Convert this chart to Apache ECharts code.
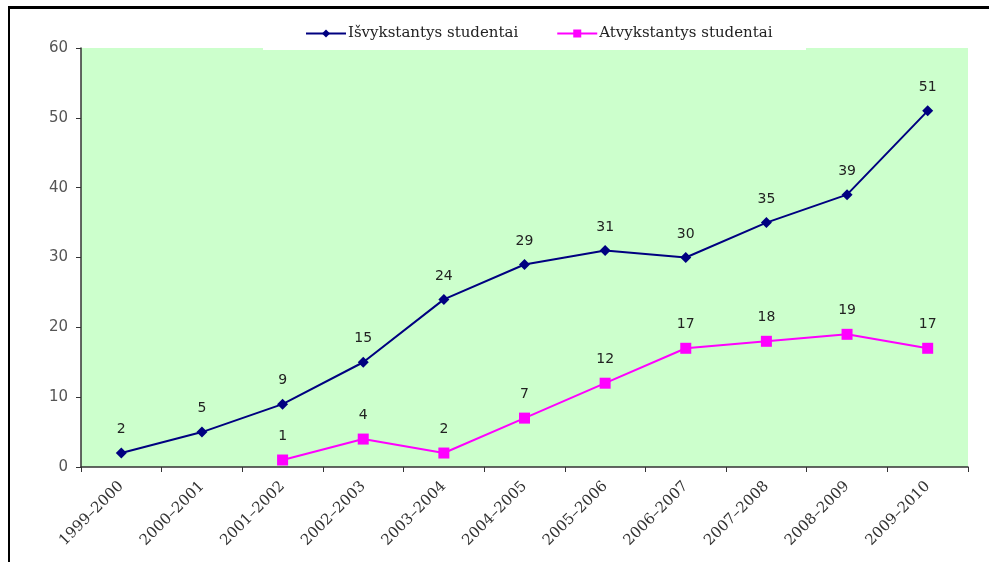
<!DOCTYPE html>
<html><head><meta charset="utf-8">
<script src="https://cdn.jsdelivr.net/npm/echarts@6/dist/echarts.min.js"></script>
<style>html,body{margin:0;padding:0;background:#fff}#c{width:989px;height:562px}</style>
</head><body><div id="c"></div>
<script>
const categories = ['1999–2000','2000–2001','2001–2002','2002–2003','2003–2004','2004–2005','2005–2006','2006–2007','2007–2008','2008–2009','2009–2010'];
const outgoing = [2,5,9,15,24,29,31,30,35,39,51];
const incoming = [null,null,1,4,2,7,12,17,18,19,17];
const seriesNames = ['Išvykstantys studentai','Atvykstantys studentai'];
const yTicks = {min:0, max:60, interval:10};

const chart = echarts.init(document.getElementById('c'), null, {renderer:'canvas'});
const labelStyle = {show:true, position:'top', distance:11, color:'#222', fontFamily:'DejaVu Sans', fontSize:14};
chart.setOption({
  animation:false,
  backgroundColor:'#fff',
  grid:{left:81, right:21, top:48, bottom:95, show:true, backgroundColor:'#CCFFCC', borderWidth:0},
  legend:{
    left:305, top:26, itemGap:38, padding:0,
    itemWidth:40, itemHeight:10,
    textStyle:{fontFamily:'DejaVu Serif', fontSize:15, color:'#222', padding:[0,0,0,-3]},
    data:seriesNames
  },
  xAxis:{
    type:'category', data:categories, boundaryGap:true,
    axisLine:{lineStyle:{color:'#333', width:1.5}},
    axisTick:{show:true, length:5, lineStyle:{color:'#333'}},
    axisLabel:{rotate:45, interval:0, fontFamily:'DejaVu Serif', fontSize:15, color:'#333', margin:17},
    splitLine:{show:false}
  },
  yAxis:{
    type:'value', min:yTicks.min, max:yTicks.max, interval:yTicks.interval,
    axisLine:{show:true, lineStyle:{color:'#333', width:1.5}},
    axisTick:{show:true, length:5, lineStyle:{color:'#333'}},
    axisLabel:{fontFamily:'DejaVu Sans', fontSize:15, color:'#555', margin:13},
    splitLine:{show:false}
  },
  series:[
    {name:seriesNames[0], type:'line', data:outgoing, symbol:'diamond', symbolSize:11,
     itemStyle:{color:'#000080'}, lineStyle:{color:'#000080', width:2}, label:labelStyle},
    {name:seriesNames[1], type:'line', data:incoming, symbol:'rect', symbolSize:11,
     itemStyle:{color:'#FF00FF'}, lineStyle:{color:'#FF00FF', width:2}, label:labelStyle}
  ],
  graphic:[
    {type:'rect', shape:{x:263, y:12, width:543, height:38}, style:{fill:'#fff'}, z:3},
    {type:'rect', shape:{x:8, y:6, width:981, height:3}, style:{fill:'#000'}, z:100},
    {type:'rect', shape:{x:8, y:6, width:2, height:556}, style:{fill:'#000'}, z:100}
  ]
});
</script></body></html>
